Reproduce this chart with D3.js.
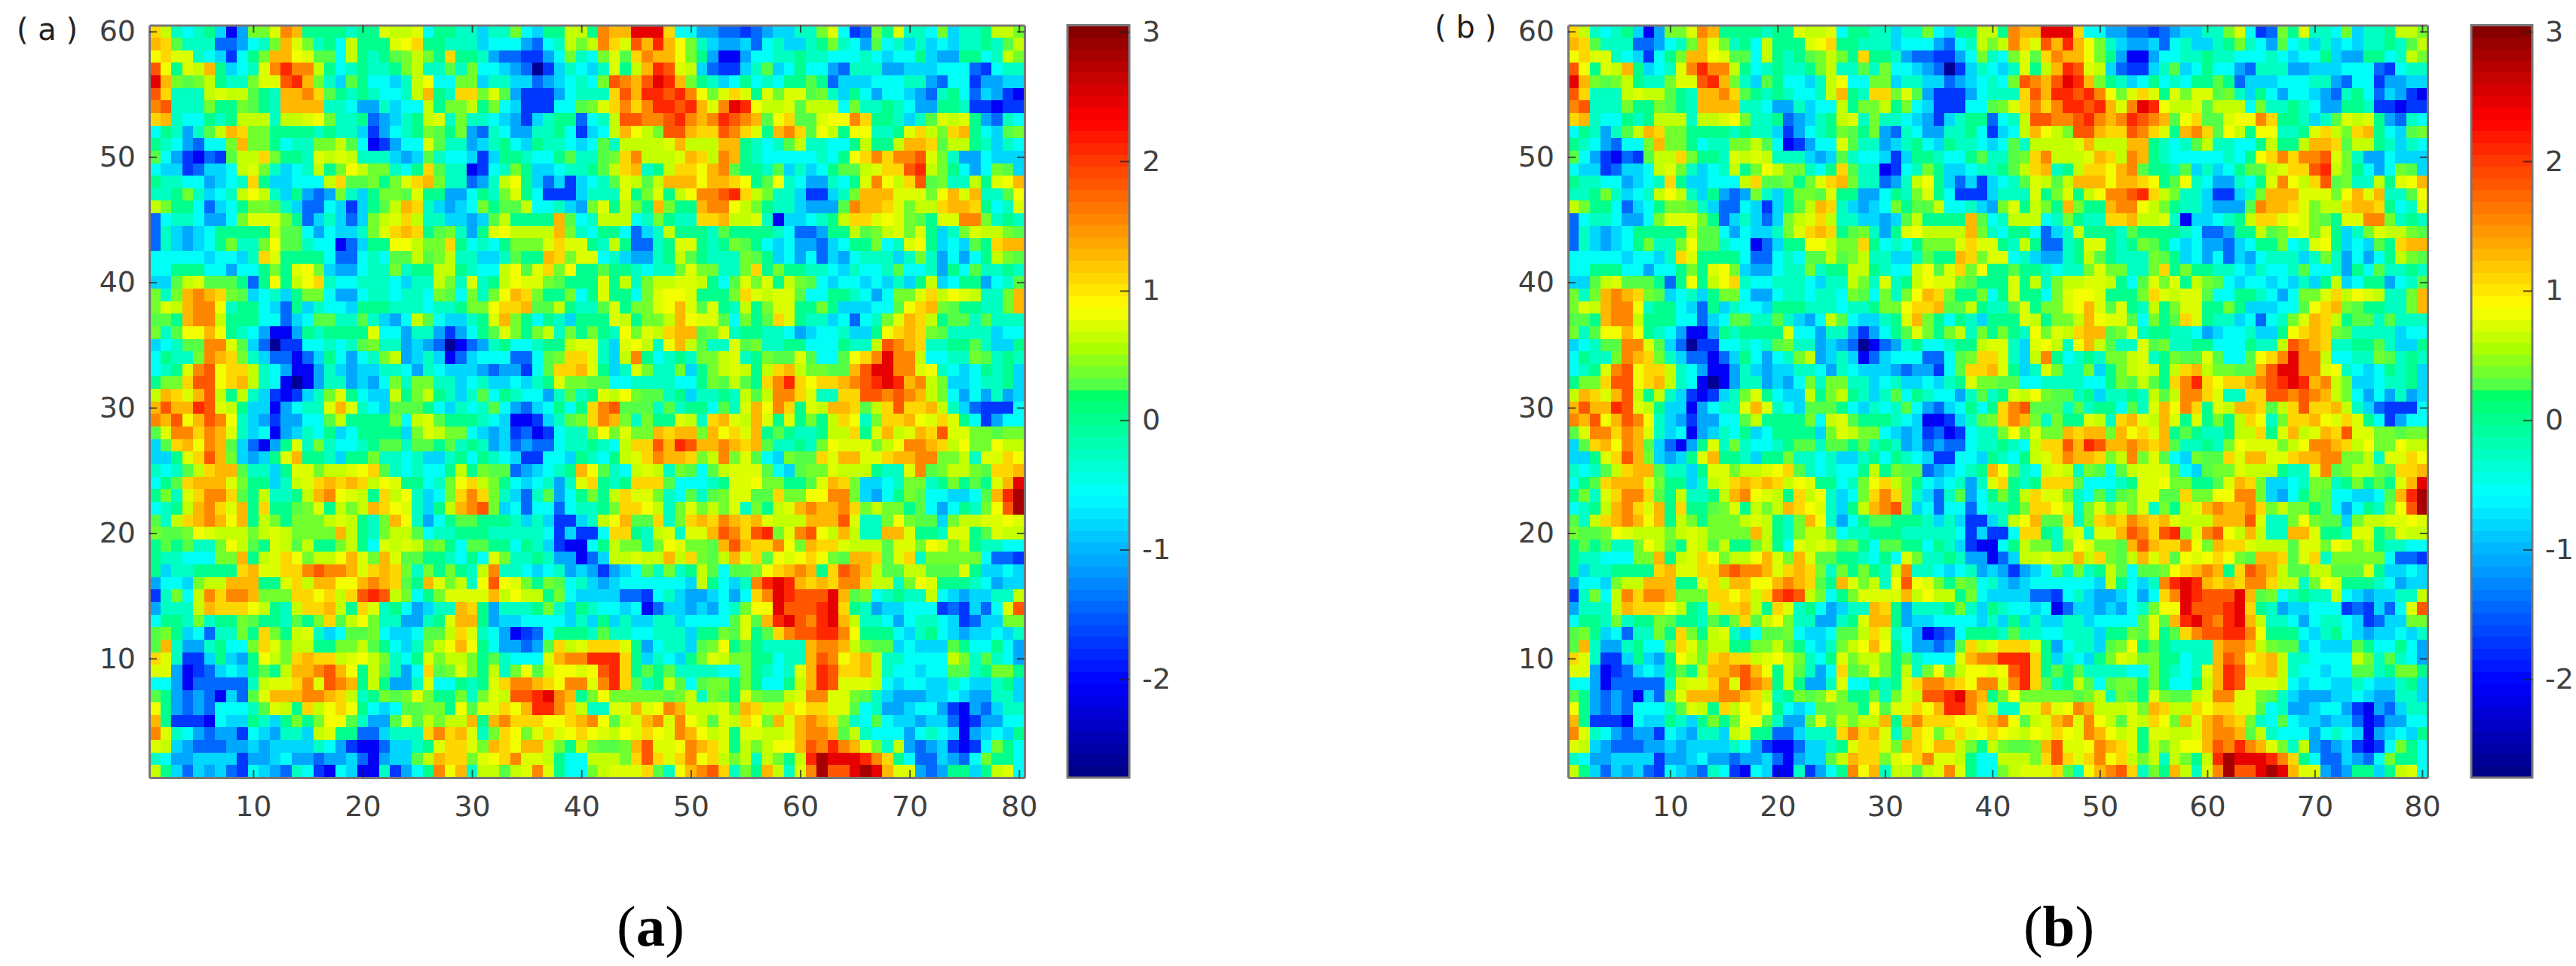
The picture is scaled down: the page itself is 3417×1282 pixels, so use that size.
<!DOCTYPE html>
<html>
<head>
<meta charset="utf-8">
<title>Heatmaps</title>
<script src="https://cdn.jsdelivr.net/npm/d3@7"></script>
<style>
    html, body { margin: 0; padding: 0; background: #fff; }
    svg { display: block; }
</style>
</head>
<body>
<script>
// DATA //
// one letter per cell, colour, see levelCodes / levelValues
const levelCodes = 'abcdefghijklmnopqrstu'.split('');
const levelValues = [-2.6, -2.05, -1.69, -1.4, -1.12, -0.84, -0.58, -0.3, 0.01, 0.25, 0.33, 0.6, 0.75, 0.87, 1.07, 1.3, 1.58, 1.8, 2.1, 2.45, 2.85];

// rows go from y=60 (top) to y=1, spaces are only there to help counting
const rowsA = [
    'olhghifbek kmqpiiiihi imllmgiih hfhhkgfiil liqpptttog geeddcdeff hhkmgcdkim h hgkfhhillk',
    'pojhhhddeg hkpmkhigli iimnoiihh hfgggedghl klqomrpspn khfeefdghf fhikhgejgh f hfgfhhihjl',
    'nommhgfcgi kppnmjjgli hijklkioi iheddccegk hgkmjoqppn kiebbegghh ihhggghgfg g ifeeiighlk',
    'rnimlpifgh mqsqqlighi hhiklhhjh kggfedacfh gfhmilpsrm lfdccfhjfg iggedhhhee f ffgggdcghh',
    'tpkjklihhk mmrspkhfji ggfhlnggk kfhhffdefg hgkrqprtsp kihfgighgi ijidfffggg h hedggceeff',
    'rohhhlmllj ihppqojihi hgghlpiho okmjeccceg hhhorpssrs qnkmomimkm mjkhfigegg f edhigdfecb',
    'qrhhhkiikj ihpppphhge ehfgglikk likgfcccgg jkmoqoqssr spmqtsnllm jlllgkhhih g eeiihccbcc',
    'ophggihill lhllmnkhhi defhilmhk hhgfecfhii dghlrrqqrs qpqsrqpjno jjmnnqoiih f hjmlmiedhg',
    'gihehjlpok kiiiihihhf ceghikjik edhgeehhig cfglpnlkrr poorqomipq ojnlinnhhi m olkopigfjk',
    'ihgedggkpk kighhkkljg bceggmjhh efhigfihhg fgjhllllmp lllppihghj lhhggiliil p pojllihfhg',
    'jgecbdcjll okiihmlmlh hhfefjhgg fcfiihggij hhjkoqlllm polqpihggg gghginoqoq q rmkheegfff',
    'gffcdffglm khfghliknl kkhgiojhh bcghkiffgh hijlophilo onpqjiihjf hfgijjlmoo r slkigegkjf',
    'ihhggefgho iffggglojj kikmopkhh dehlnifdfc fghjmljlpp pnpponijnh geehgimqnl o rjkhhlimnp',
    'hhikhfghln lhfiedekhf ikkjmiiee gihkmigccc fhhhmikmil nqqrsolkhh fccfhkpppm m mknpmphhjn',
    'lkiigdfgik kjhfddgfcf ijlpohfef gkijjlgghf ekmilkipki ipqqnlkihh feeejqppom k lloppoighm',
    'dghhgeegkm mmkidfhfdf klmolhhff efjliiiipj ghlllghkih hoopllmhbf fghiloomnm k jimmqqkhih',
    'dhfefgiiii iljjgegffh kmopoijkh eimnllllpk hgiigdfhli iihjiiiihg ddeiiljklm k mifhkmllkj',
    'dhfefgikhh knjjhggbdf iinnlkkoi ghgikkkmom mihliddhim mihikjigfg eedfgiikgh m nifgfjiopp',
    'gggggfggfh omiiiigddg hgjjljklh hffhjiipok mmghfeehil jihhhkjifg egdfeghhhf h khegegilkj',
    'ggiiiggegg ikimnkfeeg hhkhiilli hgglnjmokn iijiihghhk mkkhhkoiki ihhgfhgghj g gheigjhhih',
    'ffjlmjjjid inilnohggh hhgfhhlkh mhilnmmkji iimilhkllm mligjmkmil kjgfggfgfh f ilfgiieghj',
    'khkpqpokjf ghfikkgeeg hhghhgkjg khknpokiik gimiigkmnn miiikomlmm jggiihgegk k molnmlhhkp',
    'kmlpqqnhii gfdifhggfi iihhhghhi kknoopjjli hhjmikkmnp mjmihlikmm iikifffggj n opkjiihhkp',
    'jjipqqliii ggdfgjjhhj hfegljgff himpkigihf iiimlikklp nmmjgkijom ihhfgdghkm p olijjhjhhh',
    'khjnnpnihg ebbeihiiii mggehhece gijmkiklhk ikihnkmlop pjkmhiihhg efgghffino p okjhhhhfgg',
    'fghjjqqmjf daccgghghj khhefedab dehigghiil mmhfmnlhnp ljhhmjkhhi igggihhlrq p ohhiijhffi',
    'gihhkqpokh fddbdfigeg hklefhfbd fgggddgjko omhflqighi hkklmhikjj mjggjnoqtq q lgghhkjhih',
    'ghimqrnool hgebbehfef fhhgehgff fedeecgjoo pmifhmkhhk fiklmlilop lkkjjprttq q mnhgfgihif',
    'ikkorrnopl hgbabehhef egkhkkhhf ghffgfhimk kjjgghhhhg gikjljioqs onoopqrsts p qlkffghhif',
    'lpomprlilh fcbcfhkmig ffliklihf hjgihggehj himlnkjjhi fhhihljlqq omhhoorrqr q plkgegehef',
    'prppsrmlif fbeghhmpmh gfjjjigfh ghjgedfgig ioqrjjjhjh iigjhmpnqo imlppojlor o oplhfdcccg',
    'qprnprqnhf eceeggjlii iikglmjii ihgfbbcfhj koqpkhkiim lhopmlpmim ikilonhkoo p nmomigcegg',
    'jmqqoqpmhf gbefhgifgi iiifkmlkk gfefcdbcgh hknkmkkpop pkpnompiji hhilloimpl m pormmkkjkk',
    'fjopnqpjfd beimhkhggh ijjhjjijh ihefdeddgh hihgloorps rppqpopjhh ihknmmmkln q qpolnkknll',
    'ffimorpkfe fimpiihfii khhghffhi gihgfccggf ihgilmoqpp oklqkmjgfk jjomppmmop p qqkklhmmon',
    'hghjloppjh hfimmkllmn ojhghggil ikjjdefghi pnjhglmlhk jgjlmmmjgf jkkmlllihh m qjkllkjoop',
    'gijopppmki ifhlmopopo lnmiighkn olkigfgheh moihiooojg gghimmnkki ijmpokffgh k khikijimpt',
    'ikhmoqqoji lhhilpqnml iolnhfgko qokhfdhjeg ikilommkhg jhjkmmjjok knnqqkfegi k jggffgjpsu',
    'ghilpqompi oiijkmilkl ponmhfilp qrkfgdggdg hhikoonlhk mklkmhkilm pqppqoklkk i jgegihknru',
    'jhlopqpnpi lkikkklmli hkpnhegij jiiihfhfcc fhlnpjjohk opoqpopmll lppprmhhkn k jjfkllmmnm',
    'kjjknmlllk lmlkkkkpli hklljghhi iihhhhhgcf ccgooihlmh mmprqorskm qrnlplhhpp m iihmmijmll',
    'ijijhhknlj imljliikli gmlmljkig jjiigihfcb bgilkkhknm kkjprpooqn kpoomllljm m knmklihhgg',
    'ihhgggkkpi lmonkllnpm kpmjjiihg igmkhhihee bdfllmllpl okjlpmojnm nonkjppojm o hkkkkkgddc',
    'ifhhiiiiop mmooqrqqpm opokhkiki hlqhhgfghe fecefgjhkh iljgjjknop qpiorqpljj l ljjjmiffgf',
    'eggfkllppp iimolppnnp qpojipmkl hnrnmkikjg hfefgggggg fligfhqsts popoqqollh k nmiiihgeff',
    'chkglqoqqp kkkoonolor srlkgikmm mmplnllikg ffffddcghf eefgegoqts rrrtpjkghi h hlgfeffhhl',
    'ehhhlpooon lihlooplio mhigefhhp oiehhhikhf ihggfgbdff efeghknntr rrstoiheff g ggcdcfdgmr',
    'giihkhiikj iihjikojln khheehimp pieffggggf hfifhffhhf ggggjmjpst rqstplhhge g hhgfcdffkk',
    'jkifgdhhki okilmhfgjj kgffgjjlo mhgebcdgii ihjhhgghhh fiikjmijoq rrssqniiig f higfeffgfh',
    'jpheehiggk omklliikkl jigfhklnp nigeedejol mooomieghh fjknijihhh hpqqplkjjf g fffjiggige',
    'omhccfifei nlkopoolmn lkhgimkll kijhgggmpq qsssoifhgf ikmlkkiigh hprqnoplhh g ggglkhjhge',
    'mmebcdfgfi jilppqrpni ljhegojkm kilhknjlnn mnrsoijijh hhhggkihgh mpsrooplhg g fggjjhikki',
    'ggebdddddh lmmoqmrqpi lieehmggi himoqqponq qmqsojhilj gjkkikiggi lpsrmmmlgf g gffhgffhif',
    'jiededbfdj mpppqqpolh ikjkmkiik hkmlrrstqp iknkkkkkjk lhkjimkjjl mqqmmkjhfe e effgfeehhf',
    'niededgggh jmliolnoni gfgjjkkin jmmonpssqo lhhmmpmnqp lllmkpollo noommjghee f ggecbedfhh',
    'picccbgffi hfikiknnjh eejmjlkll pipqooonno pqnjlmpqmq nljmlonkpm pqpokhgjgf f effdbceegg',
    'qmhgedeecg fehhflmiid dfhhhoqop mhkonkmomn onmlnmonmq pnlmimmllm pqqpjlhggg e ghgfbefgfi',
    'mlfedddeef effffhgecb bdffhimoo mkponpplki lkjjkprmmn qpomilklnn prqsqpmkhl e defcbcgkig',
    'hgeeffffce efgeedeefd beffjlpoo kmnoqmmlig glllkoromo qnolklhlki lsutttsqoi g ddfedgkiig',
    'lifdfefdcg fedhgcbgfb bhcegiqnp hlljlmqmig gklmmmojhn pqrohkiplh mqurrtutpm m edeiifilmg'
];

// cells of panel (b) that look different from (a): [x, y, code]
const editsB = [];

const xTicks = [10, 20, 30, 40, 50, 60, 70, 80];
const yTicks = [10, 20, 30, 40, 50, 60];
const barTicks = [-2, -1, 0, 1, 2, 3];
const barDomain = [-2.76, 3.05];

// colorbar stops, jet with the small jump in the green
const stopValues = [-2.76, -2.03, -0.58, 0.27, 0.28, 0.55, 0.87, 2.32, 3.05];
const stopColors = ['#00007f', '#0000ff', '#00ffff', '#00ff5a', '#55ff46', '#aaff00', '#ffff00', '#ff0000', '#7f0000'];

// CHART //
const width = 3417, height = 1282;
const top_ = 33.5, bottom = 1032;
const nBands = 64;

const interp = d3.scaleLinear().domain(stopValues).range(stopColors).interpolate(d3.interpolateRgb);
const bands = d3.range(nBands).map(i => interp(barDomain[0] + (i + 0.5) * (barDomain[1] - barDomain[0]) / nBands));
const color = d3.scaleQuantize().domain(barDomain).range(bands);
const codeToValue = d3.scaleOrdinal().domain(levelCodes).range(levelValues);

const svg = d3.select('body').append('svg')
    .attr('width', width)
    .attr('height', height)
    .style('font-family', '"DejaVu Sans"');

function cellsOf(rows, edits) {
    const cells = [];
    rows.forEach((r, i) => {
        r.replace(/ /g, '').split('').forEach((c, j) => {
            cells.push({ x: j + 1, y: 60 - i, v: codeToValue(c) });
        });
    });
    edits.forEach(e => {
        cells[(60 - e[1]) * 80 + e[0] - 1].v = codeToValue(e[2]);
    });
    return cells;
}

function styleAxis(g) {
    g.selectAll('.domain').attr('stroke', '#777').attr('stroke-width', 3);
    g.selectAll('.tick line').attr('stroke', '#222').attr('stroke-opacity', 0.75).attr('stroke-width', 2);
    g.selectAll('.tick text').attr('fill', '#404040').style('font-size', '38px').style('font-family', '"DejaVu Sans"');
}

function drawPanel(p) {
    const x = d3.scaleLinear().domain([0.5, 80.5]).range([p.left, p.right]);
    const y = d3.scaleLinear().domain([0.5, 60.5]).range([bottom, top_]);

    // heatmap
    svg.append('g')
        .attr('shape-rendering', 'crispEdges')
        .selectAll('rect')
        .data(p.cells)
        .join('rect')
        .attr('x', d => x(d.x - 0.5))
        .attr('y', d => y(d.y + 0.5))
        .attr('width', d => x(d.x + 0.5) - x(d.x - 0.5) + 0.5)
        .attr('height', d => y(d.y - 0.5) - y(d.y + 0.5) + 0.5)
        .attr('fill', d => color(d.v));

    // axes, ticks point inward on all 4 sides
    svg.append('g').attr('transform', `translate(0,${bottom})`)
        .call(d3.axisBottom(x).tickValues(xTicks).tickSizeInner(-10).tickSizeOuter(0).tickPadding(24))
        .call(styleAxis);
    svg.append('g').attr('transform', `translate(0,${top_})`)
        .call(d3.axisTop(x).tickValues(xTicks).tickSizeInner(-10).tickSizeOuter(0).tickFormat(''))
        .call(styleAxis);
    svg.append('g').attr('transform', `translate(${p.left},0)`)
        .call(d3.axisLeft(y).tickValues(yTicks).tickSizeInner(-10).tickSizeOuter(0).tickPadding(18))
        .call(styleAxis);
    svg.append('g').attr('transform', `translate(${p.right},0)`)
        .call(d3.axisRight(y).tickValues(yTicks).tickSizeInner(-10).tickSizeOuter(0).tickFormat(''))
        .call(styleAxis);

    // colorbar
    const barY = d3.scaleLinear().domain(barDomain).range([bottom, top_]);
    const step = (barDomain[1] - barDomain[0]) / nBands;
    svg.append('g')
        .attr('shape-rendering', 'crispEdges')
        .selectAll('rect')
        .data(bands)
        .join('rect')
        .attr('x', p.barLeft)
        .attr('width', p.barRight - p.barLeft)
        .attr('y', (d, i) => barY(barDomain[0] + (i + 1) * step))
        .attr('height', barY(barDomain[0]) - barY(barDomain[0] + step) + 0.5)
        .attr('fill', d => d);
    svg.append('rect')
        .attr('x', p.barLeft).attr('y', top_)
        .attr('width', p.barRight - p.barLeft).attr('height', bottom - top_)
        .attr('fill', 'none').attr('stroke', '#777').attr('stroke-width', 3);
    const barAxis = svg.append('g').attr('transform', `translate(${p.barRight},0)`)
        .call(d3.axisRight(barY).tickValues(barTicks).tickSizeInner(-12).tickSizeOuter(0).tickPadding(17)
            .tickFormat(d => String(d)))
        .call(styleAxis);
    barAxis.select('.domain').remove();

    // labels
    svg.append('text')
        .attr('x', p.tagX).attr('y', p.tagY)
        .style('font-size', '40px')
        .attr('fill', '#222')
        .attr('xml:space', 'preserve')
        .text(p.tag);

    const cap = svg.append('text')
        .attr('x', p.capX).attr('y', 1255)
        .attr('text-anchor', 'middle')
        .style('font-family', '"Liberation Serif"')
        .style('font-size', '77px')
        .attr('fill', '#000');
    cap.append('tspan').text('(');
    cap.append('tspan').style('font-weight', 'bold').text(p.capLetter);
    cap.append('tspan').text(')');
}

drawPanel({
    cells: cellsOf(rowsA, []),
    left: 198, right: 1359, barLeft: 1416, barRight: 1498,
    tag: '( a )', tagX: 22, tagY: 53,
    capX: 863, capLetter: 'a'
});
drawPanel({
    cells: cellsOf(rowsA, editsB),
    left: 2080, right: 3220, barLeft: 3278, barRight: 3359,
    tag: '( b )', tagX: 1903, tagY: 50,
    capX: 2731, capLetter: 'b'
});
</script>
</body>
</html>
